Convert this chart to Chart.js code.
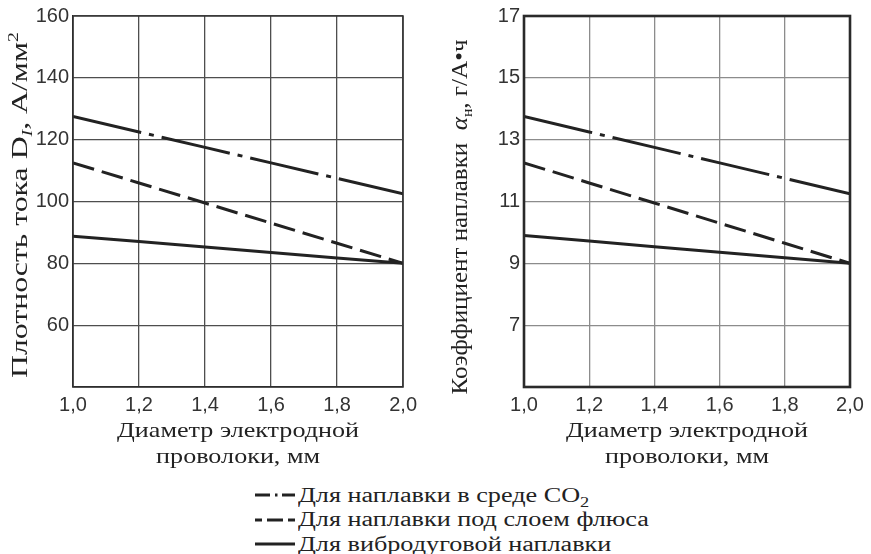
<!DOCTYPE html>
<html>
<head>
<meta charset="utf-8">
<script src="https://cdn.jsdelivr.net/npm/chart.js@4/dist/chart.umd.min.js"></script>
<style>
  html, body { margin: 0; padding: 0; background: #fff; }
  body { width: 871px; height: 554px; position: relative; overflow: hidden; }
  #w1 { position: absolute; left: 0; top: 0; width: 423px; height: 475px; }
  #w2 { position: absolute; left: 436px; top: 0; width: 435px; height: 475px; }
  #legend { position: absolute; left: 255px; top: 483px; font-family: "Liberation Serif", serif; font-size: 20px; color: #222; line-height: 25px; }
  #legend .row { display: flex; align-items: center; height: 24.5px; white-space: nowrap; }
  #legend svg { width: 40px; height: 10px; margin-right: 3px; flex: none; }
  #legend span { display: inline-block; transform: scaleX(1.31); transform-origin: left center; }
  #legend sub { font-size: 14px; vertical-align: -5px; line-height: 0; }
</style>
</head>
<body>
<div id="w1"><canvas id="c1"></canvas></div>
<div id="w2"><canvas id="c2"></canvas></div>
<div id="legend">
  <div class="row"><svg viewBox="0 0 40 10"><line x1="0" y1="5" x2="15" y2="5" stroke="#222" stroke-width="3"/><line x1="20" y1="5" x2="22.5" y2="5" stroke="#222" stroke-width="3"/><line x1="27" y1="5" x2="40" y2="5" stroke="#222" stroke-width="3"/></svg><span>Для наплавки в среде CO<sub>2</sub></span></div>
  <div class="row"><svg viewBox="0 0 40 10"><line x1="0" y1="5" x2="7" y2="5" stroke="#222" stroke-width="3"/><line x1="12" y1="5" x2="28" y2="5" stroke="#222" stroke-width="3"/><line x1="33" y1="5" x2="40" y2="5" stroke="#222" stroke-width="3"/></svg><span>Для наплавки под слоем флюса</span></div>
  <div class="row"><svg viewBox="0 0 40 10"><line x1="0" y1="5" x2="40" y2="5" stroke="#222" stroke-width="3"/></svg><span>Для вибродуговой наплавки</span></div>
</div>
<script>
// ---- data ----
const diameters = [1.0, 1.2, 1.4, 1.6, 1.8, 2.0];
const xTickLabels = ['1,0', '1,2', '1,4', '1,6', '1,8', '2,0'];

const densityCO2   = [127.5, 122.5, 117.5, 112.5, 107.5, 102.5];
const densityFlux  = [112.5, 106.0, 99.5, 93.0, 86.5, 80.0];
const densityVibro = [88.8, 87.1, 85.3, 83.5, 81.7, 80.0];
const densityYTicks = [60, 80, 100, 120, 140, 160];

const coefCO2   = [13.75, 13.25, 12.75, 12.25, 11.75, 11.25];
const coefFlux  = [12.25, 11.6, 10.95, 10.3, 9.65, 9.0];
const coefVibro = [9.9, 9.72, 9.54, 9.36, 9.18, 9.0];
const coefYTicks = [7, 9, 11, 13, 15, 17];

const seriesNames = ['Для наплавки в среде CO₂', 'Для наплавки под слоем флюса', 'Для вибродуговой наплавки'];
const xTitle = ['Диаметр электродной', 'проволоки, мм'];
const leftYTitle = [{t: 'Плотность тока D'}, {t: 'I', sub: true, italic: true}, {t: ', А/мм'}, {t: '2', sup: true}];
const rightYTitle = [{t: 'Коэффициент наплавки  '}, {t: 'α', italic: true}, {t: 'н', sub: true}, {t: ', г/А•ч'}];

// ---- helpers ----
const INK = '#222';
const SERIF = '"Liberation Serif", "Times New Roman", serif';
function pts(ys) { return diameters.map((x, i) => ({x, y: ys[i]})); }
function makeDatasets(a, b, c) {
  return [
    {label: seriesNames[0], data: pts(a), borderDash: [70, 8, 5, 8]},
    {label: seriesNames[1], data: pts(b), borderDash: [22, 8]},
    {label: seriesNames[2], data: pts(c), borderDash: []}
  ].map(d => Object.assign(d, {borderColor: INK, borderWidth: 3, pointRadius: 0, fill: false, tension: 0, borderCapStyle: 'butt'}));
}

// rotated y-axis title with sub/superscripts, stretched to a target length
function yTitlePlugin(runs, cx, cy, size, length) {
  return {
    id: 'ytitle',
    afterDraw(chart) {
      const ctx = chart.ctx;
      const fontOf = r => (r.italic ? 'italic ' : '') + ((r.sub || r.sup) ? Math.round(size * 0.62) : size) + 'px ' + SERIF;
      let total = 0;
      runs.forEach(r => { ctx.font = fontOf(r); r.w = ctx.measureText(r.t).width; total += r.w; });
      const sx = length / total;
      ctx.save();
      ctx.translate(cx, cy);
      ctx.rotate(-Math.PI / 2);
      ctx.scale(sx, 1);
      ctx.fillStyle = INK;
      ctx.textBaseline = 'alphabetic';
      let x = -total / 2;
      const base = size * 0.33;
      runs.forEach(r => {
        ctx.font = fontOf(r);
        const dy = r.sub ? size * 0.22 : (r.sup ? -size * 0.38 : 0);
        ctx.fillText(r.t, x, base + dy);
        x += r.w;
      });
      ctx.restore();
    }
  };
}

// two-line x-axis title under the plot, stretched so line 1 has the target width
function xTitlePlugin(lines, size, width, baselines) {
  return {
    id: 'xtitle',
    afterDraw(chart) {
      const ctx = chart.ctx, a = chart.chartArea;
      ctx.save();
      ctx.font = size + 'px ' + SERIF;
      ctx.fillStyle = INK;
      ctx.textAlign = 'center';
      ctx.textBaseline = 'alphabetic';
      const sx = width / ctx.measureText(lines[0]).width;
      const cx = (a.left + a.right) / 2;
      lines.forEach((ln, i) => {
        ctx.save();
        ctx.translate(cx, baselines[i]);
        ctx.scale(sx, 1);
        ctx.fillText(ln, 0, 0);
        ctx.restore();
      });
      ctx.restore();
    }
  };
}

function framePlugin(width, color) {
  return {
    id: 'frame',
    afterDatasetsDraw(chart) {
      const a = chart.chartArea, ctx = chart.ctx;
      ctx.save();
      ctx.strokeStyle = color;
      ctx.lineWidth = width;
      ctx.strokeRect(a.left, a.top, a.right - a.left, a.bottom - a.top);
      ctx.restore();
    }
  };
}

function makeChart(id, datasets, yMin, yMax, yStep, yTicks, yAxisWidth, padTop, padRight, gridColor, plugins) {
  return new Chart(document.getElementById(id), {
    type: 'line',
    data: {datasets},
    options: {
      responsive: true,
      maintainAspectRatio: false,
      animation: false,
      layout: {padding: {top: padTop, right: padRight, left: 0, bottom: 0}},
      plugins: {legend: {display: false}, tooltip: {enabled: false}},
      scales: {
        x: {
          type: 'linear', min: 1, max: 2,
          afterBuildTicks: s => { s.ticks = diameters.map(v => ({value: v})); },
          afterFit: s => { s.height = 88; },
          ticks: {
            callback: v => { const i = diameters.findIndex(d => Math.abs(d - v) < 1e-6); return i >= 0 ? xTickLabels[i] : ''; },
            font: {family: '"Liberation Sans", Arial, sans-serif', size: 20}, color: '#333', padding: 6, maxRotation: 0, autoSkip: false
          },
          grid: {color: gridColor, lineWidth: 1.3, drawTicks: false},
          border: {color: INK, width: 1.3},
          title: {display: false, text: xTitle}
        },
        y: {
          min: yMin, max: yMax,
          ticks: {
            stepSize: yStep,
            callback: v => yTicks.includes(v) ? String(v) : '',
            font: {family: '"Liberation Sans", Arial, sans-serif', size: 20}, color: '#333', padding: 4
          },
          afterFit: s => { s.width = yAxisWidth; },
          grid: {color: gridColor, lineWidth: 1.3, drawTicks: false},
          border: {color: INK, width: 1.3}
        }
      }
    },
    plugins
  });
}

makeChart('c1', makeDatasets(densityCO2, densityFlux, densityVibro), 40, 160, 20, densityYTicks, 73, 12, 16, '#4e4e4e',
  [yTitlePlugin(leftYTitle, 19, 205, 24, 346), xTitlePlugin(xTitle, 22, 242, [437, 463]), framePlugin(1.4, '#333')]);
makeChart('c2', makeDatasets(coefCO2, coefFlux, coefVibro), 5, 17, 2, coefYTicks, 88, 15, 21, '#8c8c8c',
  [yTitlePlugin(rightYTitle, 23, 217, 24, 355), xTitlePlugin(xTitle, 22, 242, [437, 463]), framePlugin(2.6, '#2a2a2a')]);
</script>
</body>
</html>
